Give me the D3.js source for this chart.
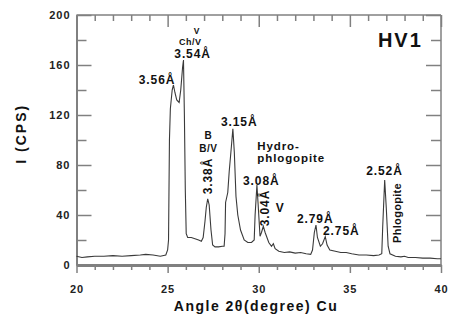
<!DOCTYPE html>
<html>
<head>
<meta charset="utf-8">
<script src="https://cdn.jsdelivr.net/npm/d3@7"></script>
<style>
  body { margin: 0; background: #fff; }
  svg { display: block; font-family: "Liberation Sans", Arial, sans-serif; }
  .tick-label { font-size: 11px; font-weight: bold; fill: #222; letter-spacing: 1px; }
  .ann { font-size: 12px; font-weight: bold; fill: #111; letter-spacing: 0.9px; }
</style>
</head>
<body>
<div class="xrd-chart"></div>
<script>
// 2θ 角度 (度) 與強度 (CPS)，由圖上目測
const angles = [20.0, 20.3, 20.6, 21.0, 21.5, 22.0, 22.5, 23.0, 23.5, 23.8, 24.2, 24.6, 24.9, 25.0,
  25.05, 25.1, 25.15, 25.25, 25.32, 25.4, 25.5, 25.63, 25.72, 25.82, 25.87, 25.92, 25.97, 26.02,
  26.1, 26.3, 26.5, 26.7, 26.85, 26.95, 27.05, 27.12, 27.2, 27.28, 27.38, 27.47, 27.6, 27.8,
  28.0, 28.1, 28.15, 28.18, 28.3, 28.38, 28.5, 28.58, 28.66, 28.75, 28.85, 29.0, 29.2, 29.4,
  29.6, 29.75, 29.8, 29.9, 29.96, 30.07, 30.15, 30.25, 30.35, 30.55, 30.7, 30.8, 30.9, 31.1,
  31.4, 31.7, 32.0, 32.3, 32.6, 32.85, 32.95, 33.05, 33.14, 33.22, 33.38, 33.5, 33.65, 33.75,
  33.9, 34.2, 34.5, 34.8, 35.1, 35.5, 35.9, 36.3, 36.6, 36.75, 36.8, 36.91, 37.0, 37.1,
  37.2, 37.5, 37.8, 38.0, 38.2, 38.6, 39.0, 39.4, 39.8, 40.0];
const counts = [7, 6, 6.5, 7, 7, 7.5, 7, 7.5, 8, 8.5, 8, 7, 8, 12,
  20, 100, 125, 140, 144, 138, 132, 130, 140, 158, 164, 120, 60, 25,
  22, 22, 21, 20, 19, 22, 35, 46, 53, 48, 28, 16, 14.5, 14.5,
  15, 15, 25, 50, 58, 75, 95, 109, 90, 55, 40, 28, 20, 18,
  18, 20, 40, 64, 50, 23, 26, 31, 26, 18, 15, 17, 13, 11,
  10, 10.5, 9.5, 10, 9, 8.5, 12, 26, 32, 22, 15, 17, 22.7, 16,
  12, 11, 10, 10, 9, 8, 8, 7.5, 8, 9, 30, 68, 45, 15,
  9, 7, 6.5, 7, 6, 6, 5.5, 5.5, 5, 5];

const xTicks = [20, 25, 30, 35, 40];
const yTicks = [0, 40, 80, 120, 160, 200];

// 峰值標註：文字與其在資料座標中的位置
const annTexts = ['3.56Å', 'V', 'Ch/V', '3.54Å', 'B', 'B/V', '3.15Å', 'Hydro-', 'phlogopite',
  '3.08Å', 'V', '2.79Å', '2.75Å', '2.52Å'];
const annAngles = [24.42, 26.6, 26.24, 26.37, 27.23, 27.23, 28.93, 29.92, 29.92,
  30.14, 31.18, 33.10, 34.53, 36.90];
const annCounts = [148, 187.6, 178.6, 169, 104, 93.6, 114.4, 95.2, 85.6,
  67.6, 45.6, 36.8, 27.2, 75.2];
// 直排標註
const vertTexts = ['3.38Å', '3.04Å', 'Phlogopite'];
const vertAngles = [27.23, 30.36, 37.61];
const vertCounts = [71.2, 45.6, 41.6];

const svgW = 449, svgH = 316;
const svg = d3.select('.xrd-chart').append('svg').attr('width', svgW).attr('height', svgH);

const x = d3.scaleLinear().domain([20, 40]).range([76.5, 441]);
const y = d3.scaleLinear().domain([0, 200]).range([265, 15]);
const axisColor = '#808080';

// 外框 (上、右)
svg.append('line').attr('x1', x(20)).attr('x2', x(40)).attr('y1', y(200)).attr('y2', y(200))
  .attr('stroke', axisColor).attr('stroke-width', 1.5);
svg.append('line').attr('x1', x(40)).attr('x2', x(40)).attr('y1', y(200)).attr('y2', y(0))
  .attr('stroke', axisColor).attr('stroke-width', 1.5);

const minorX = d3.range(20, 40.01, 1);
const minorY = d3.range(0, 200.01, 20);

// 下方刻度 (往下)
const xBottom = d3.axisBottom(x).tickValues(xTicks).tickSize(8).tickSizeOuter(0);
const gxb = svg.append('g').attr('transform', `translate(0,${y(0)})`).call(xBottom);
gxb.selectAll('.tick line').attr('stroke', axisColor).attr('stroke-width', 1.5);
gxb.select('.domain').attr('stroke', axisColor).attr('stroke-width', 3);
gxb.selectAll('text').attr('class', 'tick-label').attr('dy', '0.35em').attr('y', 24);
svg.append('g').attr('transform', `translate(0,${y(0)})`)
  .call(d3.axisBottom(x).tickValues(minorX.filter(d => d % 5)).tickSize(5).tickFormat(''))
  .call(g => g.select('.domain').remove())
  .selectAll('line').attr('stroke', axisColor).attr('stroke-width', 1.5);

// 上方刻度 (往內)
svg.append('g').attr('transform', `translate(0,${y(200)})`)
  .call(d3.axisBottom(x).tickValues(minorX).tickSize(6).tickFormat(''))
  .call(g => g.select('.domain').remove())
  .selectAll('.tick line').attr('stroke', axisColor).attr('stroke-width', 1.5)
  .attr('y2', d => (d % 5 === 0 ? 12 : 6));

// 左軸 (刻度往內)
const gyl = svg.append('g').attr('transform', `translate(${x(20)},0)`)
  .call(d3.axisRight(y).tickValues(minorY).tickSizeOuter(0)
    .tickFormat(d => (yTicks.includes(d) ? d : '')));
gyl.select('.domain').attr('stroke', axisColor).attr('stroke-width', 2);
gyl.selectAll('.tick line').attr('stroke', axisColor).attr('stroke-width', 1.5)
  .attr('x2', d => (d % 40 === 0 ? 15 : 10));
gyl.selectAll('text').attr('class', 'tick-label').attr('x', -6).attr('text-anchor', 'end');

// 右軸刻度 (往內)
svg.append('g').attr('transform', `translate(${x(40)},0)`)
  .call(d3.axisLeft(y).tickValues(minorY).tickFormat(''))
  .call(g => g.select('.domain').remove())
  .selectAll('.tick line').attr('stroke', axisColor).attr('stroke-width', 1.5)
  .attr('x2', d => (d % 40 === 0 ? -15 : -10));

// 繞射曲線
const pts = angles.map((a, i) => [a, counts[i]]);
svg.append('path').datum(pts)
  .attr('fill', 'none').attr('stroke', '#3a3a3a').attr('stroke-width', 1.1)
  .attr('d', d3.line().x(d => x(d[0])).y(d => y(d[1])));

// 峰值標註 (上方 V、Ch/V、B、B/V 字較小)
const smallSize = { 1: '8.5px', 2: '9px', 4: '10px', 5: '10px', 7: '11.5px', 8: '11.5px' };
svg.selectAll('.ann-h').data(annTexts).enter().append('text')
  .attr('class', 'ann ann-h')
  .attr('x', (d, i) => x(annAngles[i])).attr('y', (d, i) => y(annCounts[i]))
  .attr('text-anchor', d => (d === 'Hydro-' || d === 'phlogopite' ? 'start' : 'middle'))
  .attr('dominant-baseline', 'central')
  .style('font-size', (d, i) => smallSize[i] || null)
  .style('letter-spacing', (d, i) => (smallSize[i] && d.length < 5 ? '0.5px' : null))
  .text(d => d);

svg.selectAll('.ann-v').data(vertTexts).enter().append('text')
  .attr('class', 'ann ann-v')
  .attr('transform', (d, i) => `translate(${x(vertAngles[i])},${y(vertCounts[i])}) rotate(-90)`)
  .attr('text-anchor', 'middle').attr('dominant-baseline', 'central')
  .style('font-size', d => (d === 'Phlogopite' ? '11px' : null))
  .style('letter-spacing', d => (d === 'Phlogopite' ? '0.3px' : null))
  .text(d => d);

svg.append('text').attr('x', x(37.77)).attr('y', y(180))
  .attr('text-anchor', 'middle').attr('dominant-baseline', 'central')
  .style('font-size', '20px').style('font-weight', 'bold').style('fill', '#111')
  .style('letter-spacing', '2px')
  .text('HV1');

// 軸標題
svg.append('text')
  .attr('transform', `translate(21,${y(105)}) rotate(-90)`)
  .attr('text-anchor', 'middle').attr('dominant-baseline', 'central')
  .style('font-size', '14px').style('font-weight', 'bold').style('fill', '#111')
  .style('letter-spacing', '2px')
  .text('I (CPS)');
svg.append('text').attr('x', 256).attr('y', 306)
  .attr('text-anchor', 'middle').attr('dominant-baseline', 'central')
  .style('font-size', '14px').style('font-weight', 'bold').style('fill', '#111')
  .style('letter-spacing', '1.5px')
  .text('Angle 2θ(degree) Cu');
</script>
</body>
</html>
